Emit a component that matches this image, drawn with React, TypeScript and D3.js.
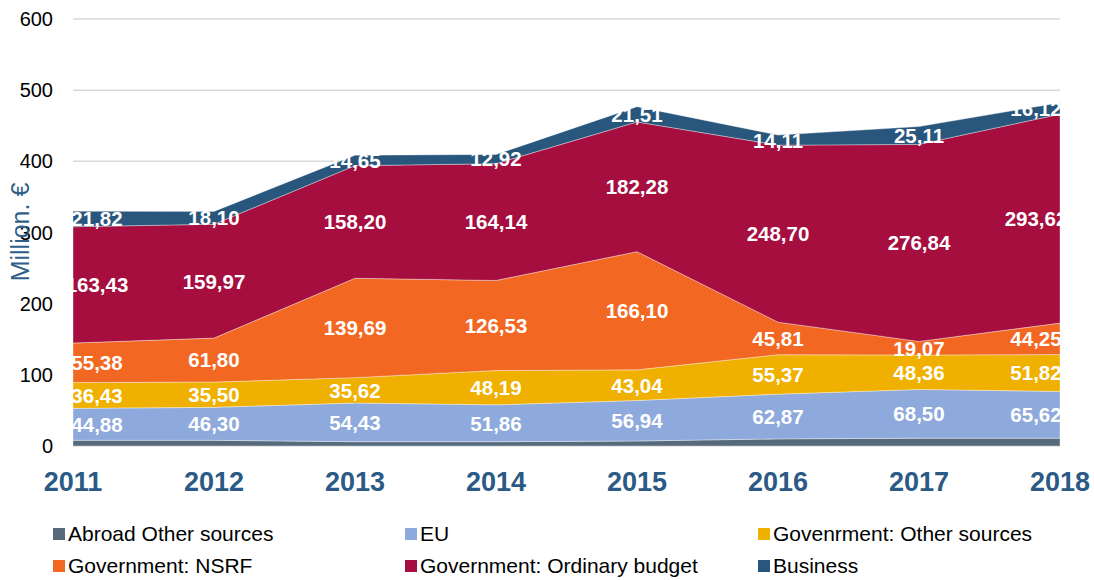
import React from 'react';
import * as d3 from 'd3';

const years = [2011, 2012, 2013, 2014, 2015, 2016, 2017, 2018];
const seriesNames = [
  'Abroad Other sources',
  'EU',
  'Govenrment: Other sources',
  'Government: NSRF',
  'Government: Ordinary budget',
  'Business',
];
const abroad = [8, 8, 6, 6, 7, 10, 11, 11];
const eu = [44.88, 46.3, 54.43, 51.86, 56.94, 62.87, 68.5, 65.62];
const govOther = [36.43, 35.5, 35.62, 48.19, 43.04, 55.37, 48.36, 51.82];
const nsrf = [55.38, 61.8, 139.69, 126.53, 166.1, 45.81, 19.07, 44.25];
const ordinary = [163.43, 159.97, 158.2, 164.14, 182.28, 248.7, 276.84, 293.62];
const business = [21.82, 18.1, 14.65, 12.92, 21.51, 14.11, 25.11, 16.12];
const yTicks = [0, 100, 200, 300, 400, 500, 600];

const colors = ['#566a7b', '#8eaadc', '#f0b000', '#f26822', '#a50e3f', '#28567c'];
// abroad has no labels in the chart
const showLabels = [false, true, true, true, true, true];

const FONT = 'Liberation Sans, Arial, sans-serif';

const App = () => {
  const width = 1094;
  const height = 580;
  const left = 73;
  const right = 1060;
  const top = 19;
  const bottom = 446;

  const all = [abroad, eu, govOther, nsrf, ordinary, business];
  const rows = years.map((y, i) => {
    const r: any = { year: y };
    seriesNames.forEach((n, k) => (r[n] = all[k][i]));
    return r;
  });
  const stacked = d3.stack().keys(seriesNames)(rows);

  const x = d3.scaleLinear().domain([2011, 2018]).range([left, right]);
  const y = d3.scaleLinear().domain([0, 600]).range([bottom, top]);

  const area = d3
    .area<any>()
    .x((d) => x(d.data.year))
    .y0((d) => y(d[0]))
    .y1((d) => y(d[1]));

  const fmt = (v: number) => v.toFixed(2).replace('.', ',');
  const labelX = (yr: number) => Math.min(Math.max(x(yr), left + 24), right - 24);

  return (
    <svg
      width={width}
      height={height}
      style={{ position: 'absolute', left: 0, top: 0, background: '#fff' }}
      fontFamily={FONT}
    >
      <defs>
        <clipPath id="plotClip">
          <rect x={left} y={0} width={right - left} height={bottom + 2} />
        </clipPath>
      </defs>

      {yTicks.map((t) => (
        <g key={t}>
          <line x1={left} x2={right} y1={y(t)} y2={y(t)} stroke="#d9d9d9" strokeWidth={1.5} />
          <text x={53} y={y(t)} dy="0.35em" textAnchor="end" fontSize={20} fill="#000">
            {t}
          </text>
        </g>
      ))}

      <g clipPath="url(#plotClip)">
        {stacked.map((s, k) => (
          <path
            key={s.key}
            d={area(s as any) || ''}
            fill={colors[k]}
            stroke="#ffffff"
            strokeOpacity={0.45}
            strokeWidth={0.8}
          />
        ))}
        {stacked.map((s, k) =>
          showLabels[k]
            ? s.map((d: any, i) => (
                <text
                  key={s.key + i}
                  x={labelX(d.data.year)}
                  y={y((d[0] + d[1]) / 2)}
                  dy="0.36em"
                  textAnchor="middle"
                  fontSize={20.5}
                  fontWeight="bold"
                  fill="#fff"
                >
                  {fmt(all[k][i])}
                </text>
              ))
            : null
        )}
      </g>

      {years.map((yr) => (
        <text
          key={yr}
          x={x(yr)}
          y={491}
          textAnchor="middle"
          fontSize={27}
          fontWeight="bold"
          fill="#2a5a85"
        >
          {yr}
        </text>
      ))}

      <text
        transform="translate(29,232) rotate(-90)"
        textAnchor="middle"
        fontSize={25}
        fill="#2f5f8a"
      >
        Million. €
      </text>

      {seriesNames.map((n, k) => {
        const col = k % 3;
        const row = Math.floor(k / 3);
        const lx = [53, 405, 758][col];
        const ly = [541, 573][row];
        return (
          <g key={n}>
            <rect x={lx} y={ly - 13} width={12} height={12} fill={colors[k]} />
            <text x={lx + 15} y={ly} fontSize={21} fill="#000">
              {n}
            </text>
          </g>
        );
      })}
    </svg>
  );
};

export default App;
